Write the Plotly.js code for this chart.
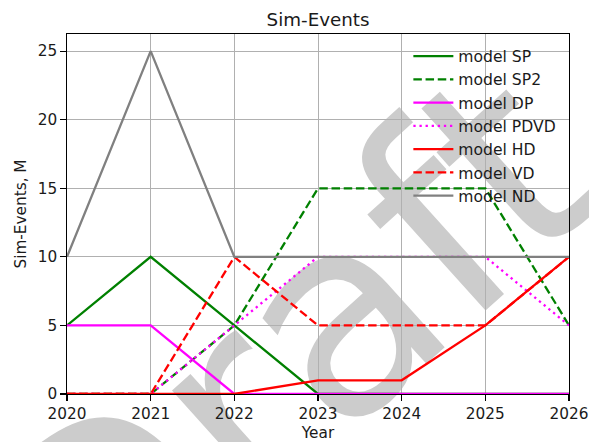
<!DOCTYPE html>
<html>
<head>
<meta charset="utf-8">
<script src="https://cdn.plot.ly/plotly-3.0.1.min.js"></script>
<style>html,body{margin:0;padding:0;background:#fff;}#chart{width:589px;height:442px;}</style>
</head>
<body>
<div id="chart"></div>
<script>
const years = [2020, 2021, 2022, 2023, 2024, 2025, 2026];
const seriesNames = ["model SP", "model SP2", "model DP", "model PDVD", "model HD", "model VD", "model ND"];
const sp   = [5, 10, 5, 0, 0, 0, 0];
const sp2  = [0, 0, 5, 15, 15, 15, 5];
const dp   = [5, 5, 0, 0, 0, 0, 0];
const pdvd = [0, 0, 5, 10, 10, 10, 5];
const hd   = [0, 0, 0, 1, 1, 5, 10];
const vd   = [0, 0, 10, 5, 5, 5, 10];
const nd   = [10, 25, 10, 10, 10, 10, 10];
const yTicks = [0, 5, 10, 15, 20, 25];
const xTicks = years;

const values = [sp, sp2, dp, pdvd, hd, vd, nd];
const colors = ["#008000", "#008000", "#ff00ff", "#ff00ff", "#ff0000", "#ff0000", "#808080"];
const dashes = ["solid", "8.5px,3.7px", "solid", "2.3px,3.8px", "solid", "8.5px,3.7px", "solid"];

const traces = values.map((v, i) => ({
  x: years, y: v, type: "scatter", mode: "lines", name: seriesNames[i],
  line: {color: colors[i], width: 2.3, dash: dashes[i]},
  cliponaxis: true
}));

const font = {family: "DejaVu Sans, sans-serif", size: 15.3, color: "#1a1a1a"};
const axisCommon = {
  showline: true, linecolor: "#000", linewidth: 1.2, mirror: true,
  ticks: "outside", ticklen: 5.4, tickwidth: 1.2, tickcolor: "#000",
  showgrid: true, gridcolor: "#b0b0b0", gridwidth: 1,
  zeroline: false, tickfont: font
};

const layout = {
  width: 589, height: 442,
  margin: {l: 67, r: 20, t: 34, b: 48},
  paper_bgcolor: "#ffffff", plot_bgcolor: "rgba(0,0,0,0)",
  font: font,
  title: {text: "Sim-Events", font: {family: "DejaVu Sans, sans-serif", size: 18.3, color: "#1a1a1a"}, x: 0.54, xanchor: "center", y: 0.955, yanchor: "middle"},
  xaxis: Object.assign({}, axisCommon, {
    range: [2020, 2026], tickvals: xTicks, ticktext: xTicks.map(String),
    title: {text: "Year", font: font}
  }),
  yaxis: Object.assign({}, axisCommon, {
    range: [0, 26.25], tickvals: yTicks, ticktext: yTicks.map(String),
    title: {text: "Sim-Events, M", font: font}
  }),
  showlegend: true,
  legend: {x: 0.68, y: 0.985, xanchor: "left", yanchor: "top", bgcolor: "rgba(0,0,0,0)",
    borderwidth: 0, font: {family: "DejaVu Sans, sans-serif", size: 15.6, color: "#1a1a1a"},
    itemwidth: 40, traceorder: "normal"},
  annotations: [{
    text: "Draft", xref: "paper", yref: "paper", x: 0.446, y: 0.1,
    xanchor: "center", yanchor: "middle", showarrow: false, textangle: -42,
    font: {family: "DejaVu Sans, sans-serif", size: 275, color: "rgb(204,204,204)"}
  }]
};

const gd = document.getElementById("chart");
Plotly.newPlot(gd, traces, layout, {displayModeBar: false, staticPlot: true}).then(() => {
  const ann = gd.querySelector(".annotation");
  const cl = gd.querySelector(".cartesianlayer");
  if (ann && cl) cl.parentNode.insertBefore(ann, cl);
});
</script>
</body>
</html>
